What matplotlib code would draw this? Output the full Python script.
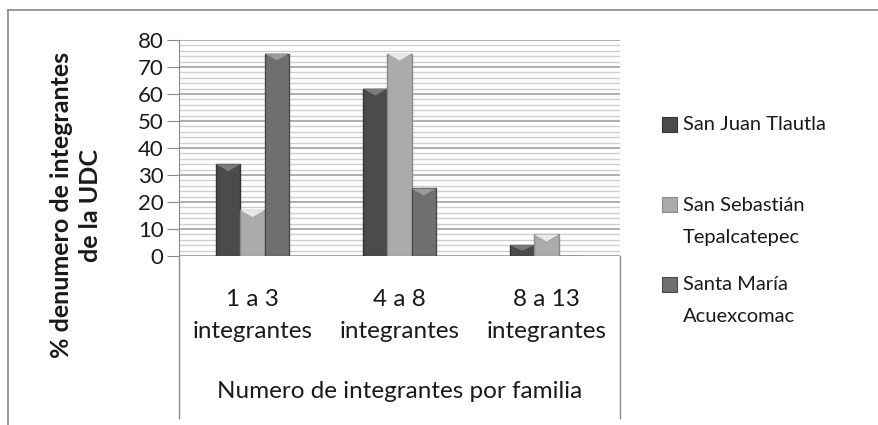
import numpy as np
import matplotlib.pyplot as plt
from matplotlib.patches import Polygon, Rectangle
from matplotlib.lines import Line2D

plt.rcParams['font.family'] = ['Lato', 'DejaVu Sans']

# data
categories = ['1 a 3\nintegrantes', '4 a 8\nintegrantes', '8 a 13\nintegrantes']
series_names = ['San Juan Tlautla', 'San Sebastián\nTepalcatepec', 'Santa María\nAcuexcomac']
san_juan = [34, 62, 4]
san_sebastian = [17, 75, 8]
santa_maria = [75, 25, 0]
yticks = [0, 10, 20, 30, 40, 50, 60, 70, 80]

values = [san_juan, san_sebastian, santa_maria]
face = ['#4b4b4b', '#ababab', '#6f6f6f']
bevel = ['#7a7a7a', '#e8e8e8', '#9a9a9a']
edge = ['#333333', '#8a8a8a', '#4a4a4a']

W, H = 879, 425
fig = plt.figure(figsize=(W / 100, H / 100), dpi=100)


def fy(py):
    # pixel row -> figure fraction
    return 1 - py / H


# plot area in pixels: x 179..620, y 40..256
ax = fig.add_axes([179 / W, fy(256), (620 - 179) / W, (256 - 40) / H])
ax.set_xlim(-0.5, 2.5)
ax.set_ylim(0, 80)

# grid: minor every 2, major every 10
for y in np.arange(2, 80, 2):
    major = y % 10 == 0
    ax.axhline(y, color='#a8a8a8' if major else '#cfcfcf', lw=1.3 if major else 1.0, zorder=0)
ax.axhline(80, color='#a8a8a8', lw=1.3, zorder=0)
ax.axhline(0, color='#a0a0a0', lw=1.3, zorder=1)

x = np.arange(len(categories))
bw = 0.165
px_per_unit = (256 - 40) / 80.0
bev_h = 7 / px_per_unit
for i, vals in enumerate(values):
    xs = x + (i - 1) * bw
    bars = ax.bar(xs, vals, width=bw, color=face[i], edgecolor=edge[i], lw=1.0, zorder=2)
    for b in bars:
        h = b.get_height()
        if h <= 0:
            continue
        x0 = b.get_x()
        x1 = x0 + b.get_width()
        d = min(bev_h, h / 2)
        tri = Polygon([[x0, h], [x1, h], [(x0 + x1) / 2, h - d]], closed=True,
                      facecolor=bevel[i], edgecolor='none', zorder=3)
        ax.add_patch(tri)

for s in ['top', 'right', 'bottom']:
    ax.spines[s].set_visible(False)
ax.spines['left'].set_color('#8a8a8a')
ax.set_yticks(yticks)
ax.tick_params(axis='y', direction='out', length=9, color='#8a8a8a', labelsize=16,
               labelcolor='#1a1a1a', pad=2)
ax.set_xticks([])

# category labels under the plot, one line at a time
for xi, lab in zip(x, categories):
    for k, line in enumerate(lab.split('\n')):
        ax.text(xi, (256 - (300 + 32 * k)) / (256 - 40), line,
                transform=ax.get_xaxis_transform(), ha='center', va='center',
                fontsize=17.5, color='#1a1a1a')

ax.text(0.5, (256 - 392) / (256 - 40), 'Numero de integrantes por familia',
        transform=ax.transAxes, ha='center', va='center', fontsize=17.5, color='#1a1a1a')

fig.text(76 / W, fy(205), '% denumero de integrantes\nde la UDC', rotation=90,
         ha='center', va='center', multialignment='center', fontsize=18,
         fontweight='bold', color='#1a1a1a', linespacing=1.35)

# extended axis lines around the category label area
fig.add_artist(Line2D([179 / W, 179 / W], [fy(256), fy(418)], color='#8a8a8a', lw=1))
fig.add_artist(Line2D([620 / W, 620 / W], [fy(256), fy(418)], color='#8a8a8a', lw=1))

# outer chart border
fig.add_artist(Line2D([8 / W, 8 / W], [fy(10), 0], color='#8a8a8a', lw=1.2))
fig.add_artist(Line2D([8 / W, 1], [fy(10), fy(10)], color='#8a8a8a', lw=1.2))

# legend
leg_y = [125, 205, 285]
for i, name in enumerate(series_names):
    yc = leg_y[i]
    fig.add_artist(Rectangle((662 / W, fy(yc + 7)), 15 / W, 15 / H,
                             facecolor=face[i], edgecolor=edge[i], lw=0.8))
    for k, line in enumerate(name.split('\n')):
        fig.text(683 / W, fy(yc + 32 * k), line, ha='left', va='center',
                 fontsize=14.5, color='#1a1a1a')

fig.savefig('out.png', dpi=100)
